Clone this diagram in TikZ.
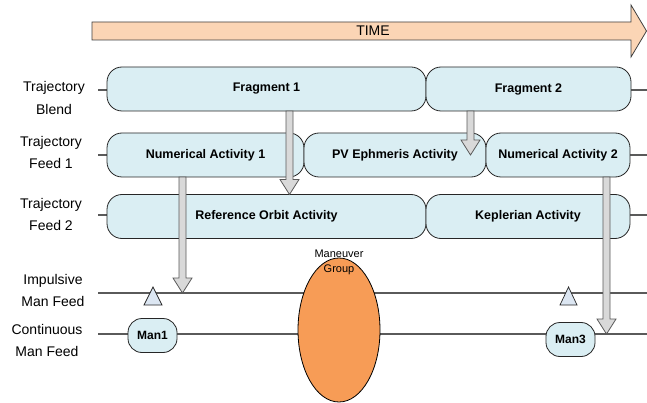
\documentclass[tikz,border=0pt]{standalone}
\usepackage{fontspec}
\setmainfont{Liberation Sans}
\usetikzlibrary{shapes.geometric,calc}
\definecolor{boxfill}{HTML}{DAEEF3}
\definecolor{timefill}{HTML}{FBD5B5}
\definecolor{grpfill}{HTML}{F79C56}
\definecolor{trifill}{HTML}{DCE6F2}
\definecolor{arrfill}{HTML}{D9D9D9}
\definecolor{linegray}{HTML}{5A5A5A}
\definecolor{edgecol}{HTML}{262626}
\newcommand{\fatarrow}[2]{%
  \path[fatarr] let \p1=(#1), \p2=(#2) in
    (\x1-3.5pt,\y1) -- (\x1-3.5pt,\y2+15pt) -- (\x1-9.5pt,\y2+15pt) -- (\x1,\y2)
    -- (\x1+9.5pt,\y2+15pt) -- (\x1+3.5pt,\y2+15pt) -- (\x1+3.5pt,\y1) -- cycle;}
\begin{document}
\begin{tikzpicture}[x=1pt,y=-1pt,
  blk/.style={draw=edgecol, fill=boxfill, rounded corners=15pt, minimum height=44pt,
    inner sep=0pt, outer sep=0pt, line width=0.8pt,
    font=\bfseries\fontsize{12.5}{15}\selectfont, text=black},
  manbox/.style={draw=edgecol, fill=boxfill, rounded corners=14pt, minimum width=49pt,
    minimum height=34pt, inner sep=0pt, outer sep=0pt, line width=0.8pt,
    font=\bfseries\fontsize{12}{14}\selectfont, text=black},
  rowlbl/.style={align=center, inner sep=0pt, font=\fontsize{14}{22.5}\selectfont, text=black},
  rowline/.style={draw=linegray, line width=1.2pt},
  fatarr/.style={draw=linegray, fill=arrfill, line width=0.8pt, line join=miter},
  tri/.style={draw=edgecol, fill=trifill, line width=0.7pt, line join=miter}]
\fill[white] (0,0) rectangle (647,403);
\useasboundingbox (0,0) rectangle (647,403);

% TIME arrow
\path[draw=black!75, fill=timefill, line width=0.8pt, line join=miter]
  (92,22) -- (631,22) -- (631,5) -- (646.5,31) -- (631,57) -- (631,40) -- (92,40) -- cycle;
\node[font=\fontsize{14}{16}\selectfont, text=black] (time) at (373,31) {TIME};

% row labels
\node[rowlbl] (lblBlend) at (54,98) {Trajectory\\Blend};
\node[rowlbl] (lblFeed1) at (51,152.5) {Trajectory\\Feed 1};
\node[rowlbl] (lblFeed2) at (51,214.5) {Trajectory\\Feed 2};
\node[rowlbl] (lblImp) at (53,290.5) {Impulsive\\Man Feed};
\node[rowlbl] (lblCont) at (47,340.5) {Continuous\\Man Feed};

% row lines
\coordinate (bL) at (98,90);  \coordinate (bR) at (647,90);
\coordinate (f1L) at (98,155); \coordinate (f1R) at (647,155);
\coordinate (f2L) at (98,215); \coordinate (f2R) at (647,215);
\coordinate (impL) at (98,293); \coordinate (impR) at (647,293);
\coordinate (conL) at (98,334); \coordinate (conR) at (647,334);
\draw[rowline] (bL) -- (bR);
\draw[rowline] (f1L) -- (f1R);
\draw[rowline] (f2L) -- (f2R);
\draw[rowline] (impL) -- (impR);
\draw[rowline] (conL) -- (conR);

% activity boxes
\node[blk, minimum width=319pt] (frag1) at (266.5,89) {Fragment 1};
\node[blk, minimum width=205pt] (frag2) at (528.5,89) {Fragment 2};
\node[blk, minimum width=197pt] (na1) at (205.5,155) {Numerical Activity 1};
\node[blk, minimum width=182pt] (pv) at (395,155) {PV Ephmeris Activity};
\node[blk, minimum width=144pt] (na2) at (558,155) {Numerical Activity 2};
\node[blk, minimum width=319pt] (ref) at (266.5,216.5) {Reference Orbit Activity};
\node[blk, minimum width=204pt] (kep) at (528,216.5) {Keplerian Activity};

% maneuver group
\node[ellipse, draw=black, fill=grpfill, line width=0.8pt, minimum width=82pt,
  minimum height=144pt, inner sep=0pt] (grp) at (339,330) {};
\node[align=center, inner sep=0pt, font=\fontsize{11}{14.5}\selectfont, text=black]
  (grplbl) at (339,262.5) {Maneuver\\Group};

% maneuvers
\node[manbox] (man1) at (152.5,335.5) {Man1};
\node[manbox] (man3) at (570.5,339.5) {Man3};

% impulsive markers
\draw[tri] (144,305) -- (153,287) -- (162,305) -- cycle;
\draw[tri] (560,305) -- (568.5,287) -- (577,305) -- cycle;

% feed arrows
\coordinate (c1) at (289.5,0);
\coordinate (c2) at (470.5,0);
\coordinate (c3) at (182.5,0);
\coordinate (c4) at (606.5,0);
\fatarrow{c1 |- frag1.south}{c1 |- ref.north}
\fatarrow{c2 |- frag2.south}{c2 |- pv.center}
\fatarrow{c3 |- na1.south}{c3 |- impL}
\fatarrow{c4 |- na2.south}{c4 |- conL}
\end{tikzpicture}
\end{document}
